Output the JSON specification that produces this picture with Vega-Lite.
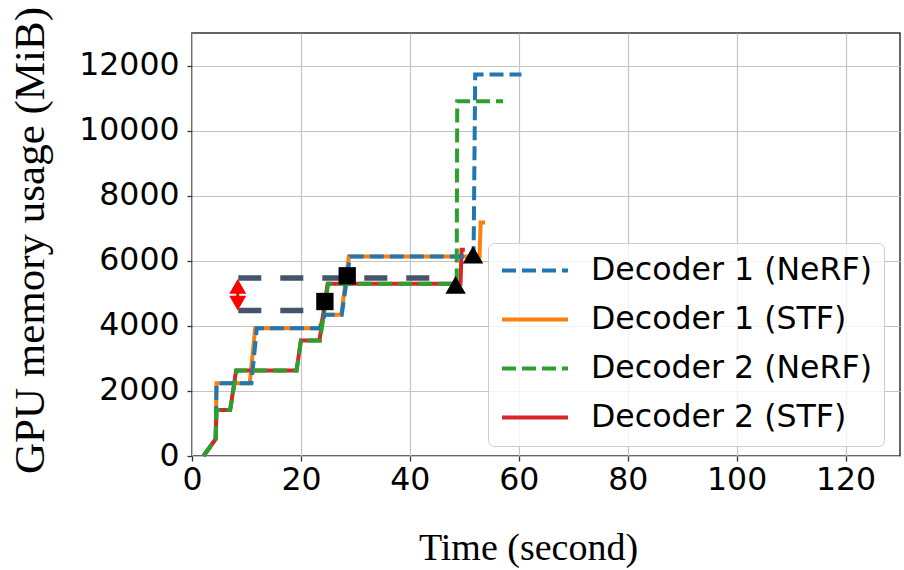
{
  "$schema": "https://vega.github.io/schema/vega-lite/v6.json",
  "width": 708,
  "height": 423,
  "autosize": {"type": "none"},
  "padding": {"left": 192, "top": 33, "right": 4, "bottom": 114},
  "background": "white",
  "config": {
    "view": {"stroke": "#333333", "strokeWidth": 1.5},
    "axis": {
      "labelFont": "DejaVu Sans", "labelFontSize": 31.5, "labelColor": "black",
      "tickColor": "#333333", "tickSize": 5, "tickWidth": 1.3,
      "gridColor": "#c4c4c4", "gridWidth": 1.2, "domain": false,
      "titleFont": "Liberation Serif", "titleFontWeight": "normal", "titleColor": "black",
      "labelFlush": false, "labelOverlap": false
    }
  },
  "datasets": {
    "stf": [
      {"series": "Decoder 1 (STF)", "i": 0, "t": 2.1, "v": 0},
      {"series": "Decoder 1 (STF)", "i": 1, "t": 4.35, "v": 520},
      {"series": "Decoder 1 (STF)", "i": 2, "t": 4.5, "v": 2236},
      {"series": "Decoder 1 (STF)", "i": 3, "t": 10.6, "v": 2236},
      {"series": "Decoder 1 (STF)", "i": 4, "t": 11.6, "v": 3928},
      {"series": "Decoder 1 (STF)", "i": 5, "t": 23.4, "v": 3928},
      {"series": "Decoder 1 (STF)", "i": 6, "t": 24.2, "v": 4338},
      {"series": "Decoder 1 (STF)", "i": 7, "t": 27.4, "v": 4338},
      {"series": "Decoder 1 (STF)", "i": 8, "t": 28.8, "v": 6133},
      {"series": "Decoder 1 (STF)", "i": 9, "t": 52.8, "v": 6133},
      {"series": "Decoder 1 (STF)", "i": 10, "t": 53.0, "v": 7178},
      {"series": "Decoder 1 (STF)", "i": 11, "t": 53.8, "v": 7178},
      {"series": "Decoder 2 (STF)", "i": 0, "t": 2.1, "v": 0},
      {"series": "Decoder 2 (STF)", "i": 1, "t": 4.35, "v": 520},
      {"series": "Decoder 2 (STF)", "i": 2, "t": 4.5, "v": 1415},
      {"series": "Decoder 2 (STF)", "i": 3, "t": 7.0, "v": 1415},
      {"series": "Decoder 2 (STF)", "i": 4, "t": 8.1, "v": 2630},
      {"series": "Decoder 2 (STF)", "i": 5, "t": 19.2, "v": 2630},
      {"series": "Decoder 2 (STF)", "i": 6, "t": 20.0, "v": 3548},
      {"series": "Decoder 2 (STF)", "i": 7, "t": 23.4, "v": 3548},
      {"series": "Decoder 2 (STF)", "i": 8, "t": 24.9, "v": 5292},
      {"series": "Decoder 2 (STF)", "i": 9, "t": 49.3, "v": 5292},
      {"series": "Decoder 2 (STF)", "i": 10, "t": 49.5, "v": 6338},
      {"series": "Decoder 2 (STF)", "i": 11, "t": 50.1, "v": 6338}
    ],
    "nerf": [
      {"series": "Decoder 1 (NeRF)", "i": 0, "t": 2.1, "v": 0},
      {"series": "Decoder 1 (NeRF)", "i": 1, "t": 4.35, "v": 520},
      {"series": "Decoder 1 (NeRF)", "i": 2, "t": 4.5, "v": 2236},
      {"series": "Decoder 1 (NeRF)", "i": 3, "t": 10.9, "v": 2236},
      {"series": "Decoder 1 (NeRF)", "i": 4, "t": 11.9, "v": 3928},
      {"series": "Decoder 1 (NeRF)", "i": 5, "t": 23.5, "v": 3928},
      {"series": "Decoder 1 (NeRF)", "i": 6, "t": 24.4, "v": 4338},
      {"series": "Decoder 1 (NeRF)", "i": 7, "t": 27.5, "v": 4338},
      {"series": "Decoder 1 (NeRF)", "i": 8, "t": 29.0, "v": 6133},
      {"series": "Decoder 1 (NeRF)", "i": 9, "t": 51.7, "v": 6133},
      {"series": "Decoder 1 (NeRF)", "i": 10, "t": 52.0, "v": 11723},
      {"series": "Decoder 1 (NeRF)", "i": 11, "t": 60.5, "v": 11723},
      {"series": "Decoder 2 (NeRF)", "i": 0, "t": 2.1, "v": 0},
      {"series": "Decoder 2 (NeRF)", "i": 1, "t": 4.35, "v": 520},
      {"series": "Decoder 2 (NeRF)", "i": 2, "t": 4.5, "v": 1415},
      {"series": "Decoder 2 (NeRF)", "i": 3, "t": 7.0, "v": 1415},
      {"series": "Decoder 2 (NeRF)", "i": 4, "t": 8.2, "v": 2630},
      {"series": "Decoder 2 (NeRF)", "i": 5, "t": 19.2, "v": 2630},
      {"series": "Decoder 2 (NeRF)", "i": 6, "t": 20.0, "v": 3548},
      {"series": "Decoder 2 (NeRF)", "i": 7, "t": 23.5, "v": 3548},
      {"series": "Decoder 2 (NeRF)", "i": 8, "t": 25.0, "v": 5292},
      {"series": "Decoder 2 (NeRF)", "i": 9, "t": 48.6, "v": 5292},
      {"series": "Decoder 2 (NeRF)", "i": 10, "t": 48.7, "v": 10902},
      {"series": "Decoder 2 (NeRF)", "i": 11, "t": 57.1, "v": 10902}
    ],
    "markers": [
      {"kind": "square", "t": 24.4, "v": 4748},
      {"kind": "square", "t": 28.5, "v": 5538},
      {"kind": "triangle", "t": 48.4, "v": 5260},
      {"kind": "triangle", "t": 51.6, "v": 6185}
    ],
    "gap": [
      {"t": 8.5, "t2": 24.4, "v": 4471},
      {"t": 8.5, "t2": 43.7, "v": 5467}
    ],
    "shaft": [
      {"t": 8.4, "v": 4700, "v2": 5200}
    ],
    "heads": [
      {"dir": "up", "t": 8.4, "v": 5212},
      {"dir": "down", "t": 8.4, "v": 4695}
    ]
  },
  "layer": [
    {
      "data": {"name": "stf"},
      "mark": {"type": "line", "strokeWidth": 4},
      "encoding": {
        "x": {
          "field": "t", "type": "quantitative",
          "scale": {"domain": [0, 130], "nice": false, "zero": false},
          "axis": {
            "values": [0, 20, 40, 60, 80, 100, 120],
            "title": "Time (second)", "titleFontSize": 38,
            "titleX": 336, "titleY": 103, "titleBaseline": "alphabetic", "titleAlign": "center",
            "labelPadding": 3
          }
        },
        "y": {
          "field": "v", "type": "quantitative",
          "scale": {"domain": [0, 13000], "nice": false},
          "axis": {
            "values": [0, 2000, 4000, 6000, 8000, 10000, 12000], "format": "d",
            "title": "GPU memory usage (MiB)", "titleFontSize": 43,
            "titleX": -149, "titleY": 207, "titleBaseline": "alphabetic", "titleAlign": "center", "titleAngle": 270,
            "labelPadding": 8
          }
        },
        "order": {"field": "i", "type": "quantitative"},
        "color": {
          "field": "series", "type": "nominal",
          "scale": {
            "domain": ["Decoder 1 (NeRF)", "Decoder 1 (STF)", "Decoder 2 (NeRF)", "Decoder 2 (STF)"],
            "range": ["#1f77b4", "#ff7f0e", "#2ca02c", "#d62728"]
          },
          "legend": {
            "title": null, "orient": "none", "legendX": 296, "legendY": 210,
            "labelFont": "DejaVu Sans", "labelFontSize": 31.6, "labelColor": "black", "labelLimit": 0,
            "symbolType": "stroke", "symbolSize": 4356, "symbolStrokeWidth": 4, "clipHeight": 31,
            "labelOffset": 21, "padding": 12, "rowPadding": 16,
            "fillColor": "rgba(255,255,255,0.8)", "strokeColor": "#cccccc", "cornerRadius": 6
          }
        },
        "strokeDash": {
          "field": "series", "type": "nominal",
          "scale": {
            "domain": ["Decoder 1 (NeRF)", "Decoder 1 (STF)", "Decoder 2 (NeRF)", "Decoder 2 (STF)"],
            "range": [[14, 6], [1, 0], [14, 6], [1, 0]]
          },
          "legend": {
            "title": null, "orient": "none", "legendX": 296, "legendY": 210,
            "labelFont": "DejaVu Sans", "labelFontSize": 31.6, "labelColor": "black", "labelLimit": 0,
            "symbolType": "stroke", "symbolSize": 4356, "symbolStrokeWidth": 4, "clipHeight": 31,
            "labelOffset": 21, "padding": 12, "rowPadding": 16,
            "fillColor": "rgba(255,255,255,0.8)", "strokeColor": "#cccccc", "cornerRadius": 6
          }
        }
      }
    },
    {
      "data": {"name": "nerf"},
      "mark": {"type": "line", "strokeWidth": 4},
      "encoding": {
        "x": {"field": "t", "type": "quantitative"},
        "y": {"field": "v", "type": "quantitative"},
        "order": {"field": "i", "type": "quantitative"},
        "color": {"field": "series", "type": "nominal"},
        "strokeDash": {"field": "series", "type": "nominal"}
      }
    },
    {
      "data": {"name": "gap"},
      "mark": {"type": "rule", "color": "#44546a", "strokeWidth": 5.5, "strokeDash": [23, 19]},
      "encoding": {
        "x": {"field": "t", "type": "quantitative"},
        "x2": {"field": "t2"},
        "y": {"field": "v", "type": "quantitative"}
      }
    },
    {
      "data": {"name": "shaft"},
      "mark": {"type": "rule", "color": "#ff0000", "strokeWidth": 3},
      "encoding": {
        "x": {"field": "t", "type": "quantitative"},
        "y": {"field": "v", "type": "quantitative"},
        "y2": {"field": "v2"}
      }
    },
    {
      "data": {"name": "heads"},
      "transform": [{"filter": "datum.dir === 'up'"}],
      "mark": {"type": "point", "shape": "triangle-up", "filled": true, "color": "#ff0000", "size": 289, "opacity": 1},
      "encoding": {
        "x": {"field": "t", "type": "quantitative"},
        "y": {"field": "v", "type": "quantitative"}
      }
    },
    {
      "data": {"name": "heads"},
      "transform": [{"filter": "datum.dir === 'down'"}],
      "mark": {"type": "point", "shape": "triangle-down", "filled": true, "color": "#ff0000", "size": 289, "opacity": 1},
      "encoding": {
        "x": {"field": "t", "type": "quantitative"},
        "y": {"field": "v", "type": "quantitative"}
      }
    },
    {
      "data": {"name": "markers"},
      "transform": [{"filter": "datum.kind === 'square'"}],
      "mark": {"type": "point", "shape": "square", "filled": true, "color": "black", "size": 300, "opacity": 1},
      "encoding": {
        "x": {"field": "t", "type": "quantitative"},
        "y": {"field": "v", "type": "quantitative"}
      }
    },
    {
      "data": {"name": "markers"},
      "transform": [{"filter": "datum.kind === 'triangle'"}],
      "mark": {"type": "point", "shape": "triangle-up", "filled": true, "color": "black", "size": 420, "opacity": 1},
      "encoding": {
        "x": {"field": "t", "type": "quantitative"},
        "y": {"field": "v", "type": "quantitative"}
      }
    }
  ]
}
